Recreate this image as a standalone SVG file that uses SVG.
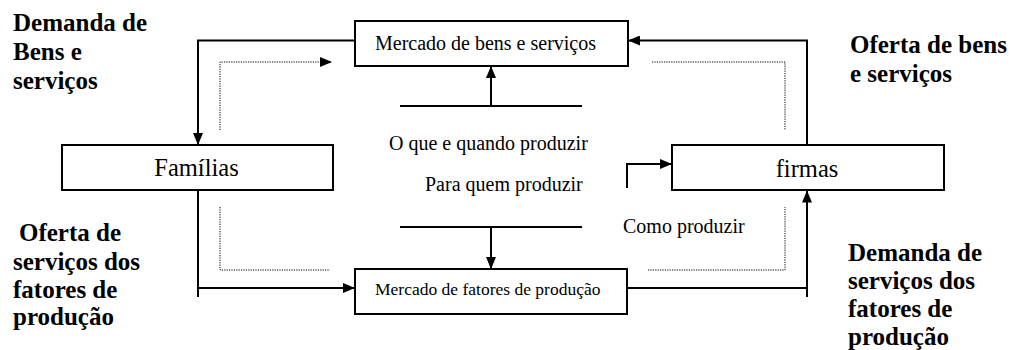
<svg xmlns="http://www.w3.org/2000/svg" width="1011" height="350" viewBox="0 0 1011 350">
<style>
.box{fill:#fff;stroke:#000;stroke-width:2}
.ln{fill:none;stroke:#000;stroke-width:2}
.dot{fill:none;stroke:#000;stroke-width:1;stroke-dasharray:1.2 1.2}
</style>
<defs>
<marker id="ah" markerUnits="userSpaceOnUse" markerWidth="12" markerHeight="10" refX="12" refY="5" orient="auto">
<path d="M0,0 L12,5 L0,10 z" fill="#000"/>
</marker>
</defs>
<rect width="1011" height="350" fill="#fff"/>
<g id="connectors">
<polyline class="ln" points="355,40.5 198,40.5 198,145" marker-end="url(#ah)"/>
<polyline class="ln" points="807,154 807,40.5 628,40.5" marker-end="url(#ah)"/>
<polyline class="ln" points="198,184 198,297"/>
<line class="ln" x1="198" y1="288" x2="355" y2="288" marker-end="url(#ah)"/>
<line class="ln" x1="627" y1="288" x2="807" y2="288"/>
<line class="ln" x1="807" y1="297" x2="807" y2="190.5" marker-end="url(#ah)"/>
<line class="ln" x1="400" y1="106" x2="582" y2="106"/>
<line class="ln" x1="491" y1="106" x2="491" y2="66" marker-end="url(#ah)"/>
<line class="ln" x1="400" y1="227" x2="582" y2="227"/>
<line class="ln" x1="491" y1="227" x2="491" y2="269" marker-end="url(#ah)"/>
<polyline class="ln" points="627,188 627,164 672,164" marker-end="url(#ah)"/>
<polyline class="dot" points="220,130 220,62 332,62" marker-end="url(#ah)"/>
<polyline class="dot" points="652,62 785,62 785,130"/>
<polyline class="dot" points="220,207 220,270 330,270"/>
<polyline class="dot" points="648,270 785,270 785,207"/>
</g>
<g font-family="Liberation Serif, Times New Roman, serif" fill="#000">
<g id="mercado-bens">
<rect class="box" x="355" y="21" width="273" height="45"/>
<text x="375" y="50" font-size="20">Mercado de bens e serviços</text>
</g>
<g id="mercado-fatores">
<rect class="box" x="355" y="269" width="272" height="45"/>
<text x="375" y="295" font-size="17.5">Mercado de fatores de produção</text>
</g>
<g id="familias">
<rect class="box" x="62" y="145" width="271" height="45"/>
<text x="196.5" y="176" font-size="24.5" text-anchor="middle">Famílias</text>
</g>
<g id="firmas">
<rect class="box" x="672" y="145" width="272" height="45"/>
<text x="807" y="177" font-size="24.5" text-anchor="middle">firmas</text>
</g>
<g id="decisoes" font-size="20">
<text x="389" y="150">O que e quando produzir</text>
<text x="425" y="191">Para quem produzir</text>
<text x="623" y="233">Como produzir</text>
</g>
<g font-weight="bold" font-size="25">
<g id="label-demanda-bens">
<text x="13" y="31">Demanda de</text>
<text x="13" y="60">Bens e</text>
<text x="13" y="89">serviços</text>
</g>
<g id="label-oferta-bens">
<text x="850" y="53">Oferta de bens</text>
<text x="850" y="82">e serviços</text>
</g>
<g id="label-oferta-fatores">
<text x="19" y="241">Oferta de</text>
<text x="13" y="270">serviços dos</text>
<text x="13" y="298">fatores de</text>
<text x="13" y="325">produção</text>
</g>
<g id="label-demanda-fatores">
<text x="848" y="261">Demanda de</text>
<text x="848" y="289">serviços dos</text>
<text x="848" y="317">fatores de</text>
<text x="848" y="345">produção</text>
</g>
</g>
</g>
</svg>
